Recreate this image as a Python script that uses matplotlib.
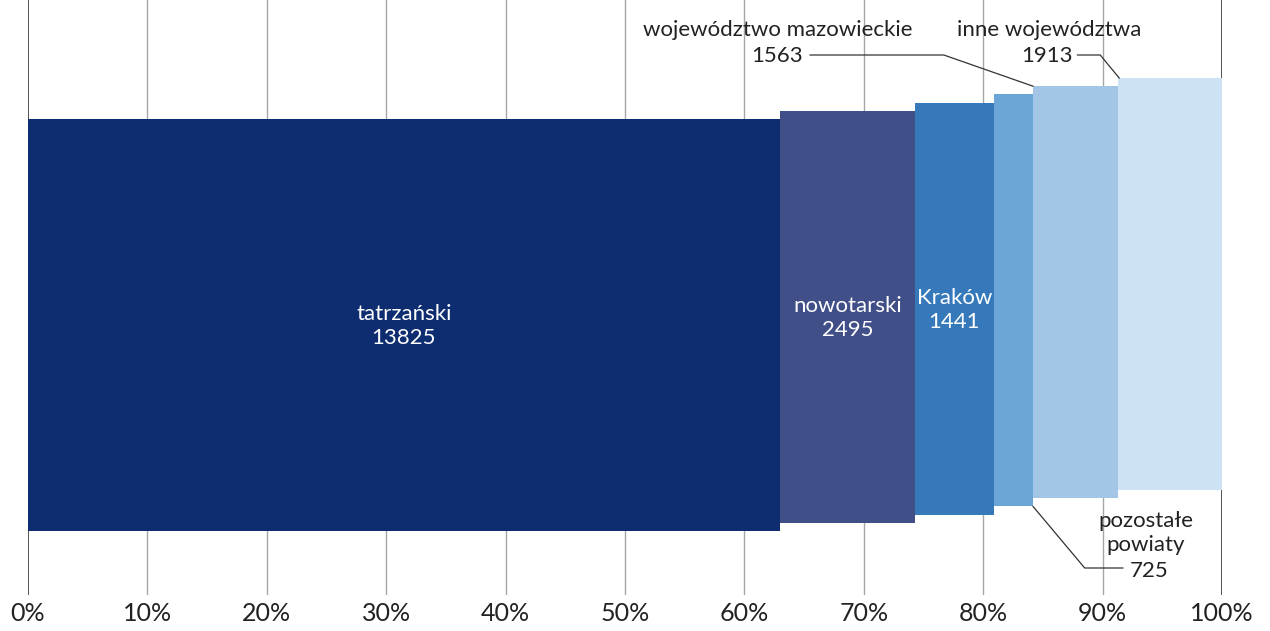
import numpy as np
import matplotlib
matplotlib.use("Agg")
import matplotlib.pyplot as plt

plt.rcParams['font.family'] = ['Lato', 'DejaVu Sans']

# data
names = ["tatrzański", "nowotarski", "Kraków", "pozostałe powiaty",
         "województwo mazowieckie", "inne województwa"]
values = [13825, 2495, 1441, 725, 1563, 1913]
colors = ["#0E2C70", "#404F88", "#3679BA", "#6CA6D6", "#A3C6E7", "#CDE2F5"]
ticks = [0, 10, 20, 30, 40, 50, 60, 70, 80, 90, 100]

total = sum(values)
widths = np.array(values) / total * 100
lefts = np.concatenate([[0], np.cumsum(widths)[:-1]])
# staggered vertical placement (in pixel-like units)
bar_h = 412
bottoms = 64 + np.arange(len(values)) * 8.2

fig = plt.figure(figsize=(12.7, 6.31), dpi=100)
ax = fig.add_axes([28 / 1270, 36 / 631, (1222 - 28) / 1270, 595 / 631])
ax.set_xlim(0, 100)
ax.set_ylim(0, 595)

for t in ticks:
    c = "#333333" if t in (0, 100) else "#A6A6A6"
    ax.axvline(t, color=c, lw=1.2 if t in (0, 100) else 1, zorder=0)

ax.bar(lefts, bar_h, width=widths, bottom=bottoms, align='edge',
       color=colors, linewidth=0, zorder=2)

fs = 16
# labels inside the three biggest bars
for i in range(3):
    ax.text(lefts[i] + widths[i] / 2, bottoms[i] + bar_h / 2 - 1,
            f"{names[i]}\n{values[i]}", ha='center', va='center',
            color='white', fontsize=fs, linespacing=1.25, zorder=3)

lc = "#333333"
txt = dict(fontsize=fs, color="#222222", zorder=3)

# pozostałe powiaty
i = 3
cx, cy = lefts[i] + widths[i], bottoms[i]
ax.text(93.6, 62, "pozostałe\npowiaty", ha='center', va='center', linespacing=1.25, **txt)
ax.text(93.9, 24, str(values[i]), ha='center', va='center', **txt)
ax.plot([cx, 88.5, 91.7], [cy, 27, 27], color=lc, lw=0.9, zorder=3)

# województwo mazowieckie
i = 4
cx, cy = lefts[i], bottoms[i] + bar_h
ax.text(74.1, 565, names[i], ha='right', va='center', **txt)
ax.text(64.9, 539, str(values[i]), ha='right', va='center', **txt)
ax.plot([65.5, 76.7, cx], [540, 540, cy], color=lc, lw=0.9, zorder=3)

# inne województwa
i = 5
cx, cy = lefts[i], bottoms[i] + bar_h
ax.text(85.5, 565, names[i], ha='center', va='center', **txt)
ax.text(87.5, 539, str(values[i]), ha='right', va='center', **txt)
ax.plot([87.9, 89.8, cx + 0.1], [540, 540, cy], color=lc, lw=0.9, zorder=3)

ax.set_xticks(ticks)
ax.set_xticklabels([f"{t}%" for t in ticks], fontsize=18, color="#222222")
ax.tick_params(axis='x', length=0, pad=5)
ax.set_yticks([])
for s in ax.spines.values():
    s.set_visible(False)

fig.savefig("out.png", dpi=100)
